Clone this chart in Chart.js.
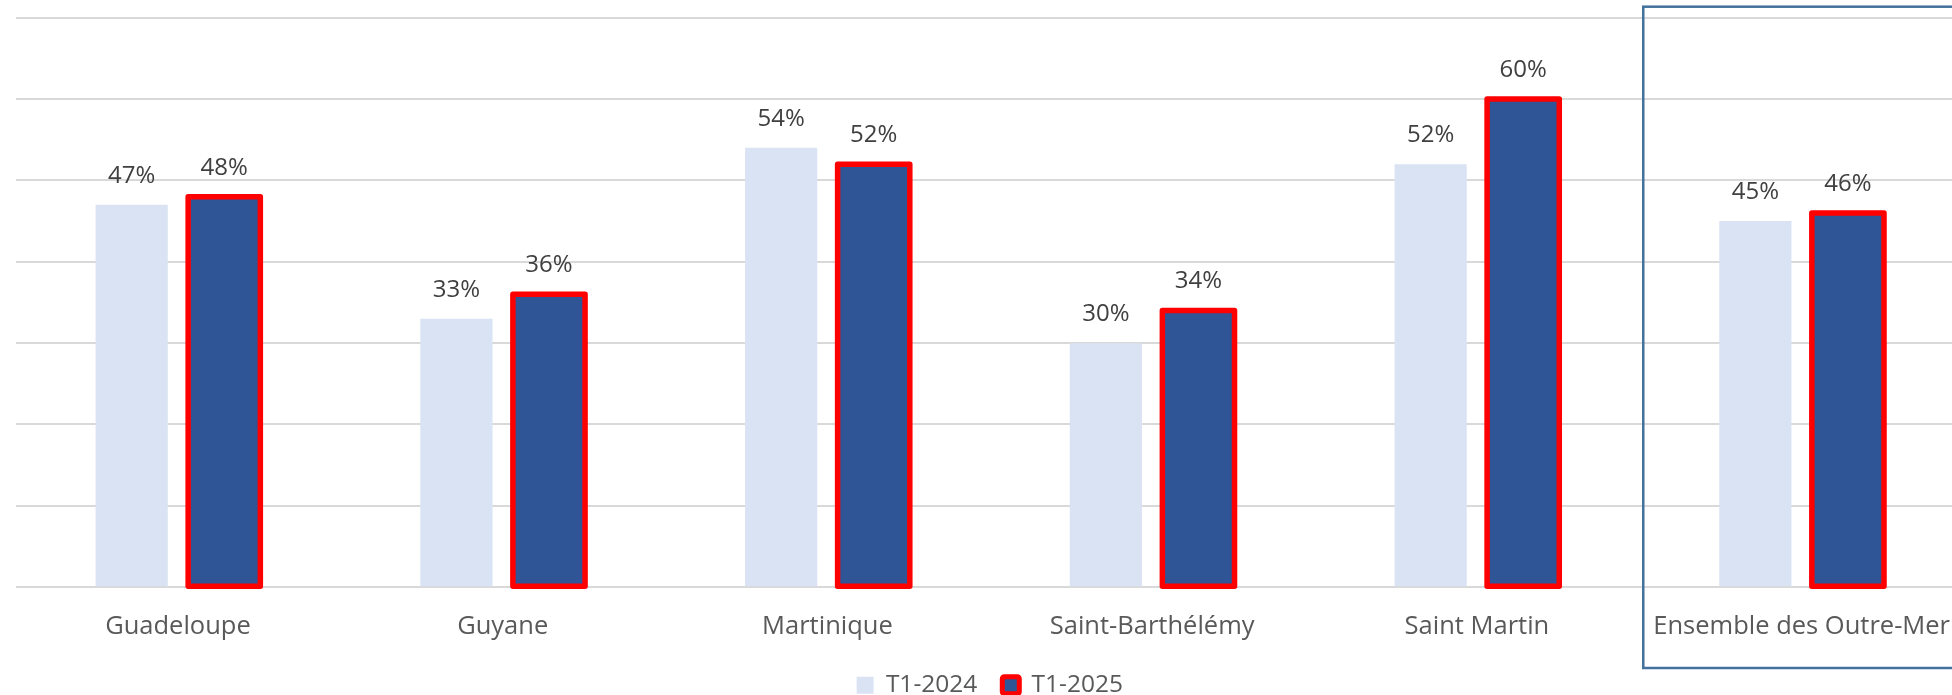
<!DOCTYPE html>
<html><head><meta charset="utf-8">
<script src="https://cdn.jsdelivr.net/npm/chart.js@4.4.1/dist/chart.umd.min.js"></script>
<style>
html,body{margin:0;padding:0;overflow:hidden;background:#fff;width:1952px;height:695px}
canvas{display:block}
</style></head>
<body><canvas id="c" width="1966" height="695" style="width:1966px;height:695px"></canvas>
<script>
const categories = ["Guadeloupe", "Guyane", "Martinique", "Saint-Barthélémy", "Saint Martin", "Ensemble des Outre-Mer"];
const seriesNames = ["T1-2024", "T1-2025"];
const values2024 = [47, 33, 54, 30, 52, 45];
const values2025 = [48, 36, 52, 34, 60, 46];
const yTicks = [0, 10, 20, 30, 40, 50, 60, 70];
const highlightedCategory = "Ensemble des Outre-Mer";

const FONT = '"Open Sans"';
const LIGHT = '#DAE3F3', DARK = '#2F5597', RED = '#FF0000';

const outlinePlugin = {
  id: 'outline',
  afterDatasetsDraw(chart) {
    const ctx = chart.ctx;
    const meta = chart.getDatasetMeta(1);
    ctx.save();
    ctx.strokeStyle = RED;
    ctx.lineWidth = 5.5;
    ctx.lineJoin = 'round';
    meta.data.forEach(el => {
      const p = el.getProps(['x', 'y', 'base', 'width'], true);
      ctx.strokeRect(p.x - p.width / 2, p.y, p.width, p.base - p.y);
    });
    ctx.restore();
  }
};

const valueLabels = {
  id: 'valueLabels',
  afterDatasetsDraw(chart) {
    const ctx = chart.ctx;
    ctx.save();
    ctx.font = '24px ' + FONT;
    ctx.fillStyle = '#404040';
    ctx.textAlign = 'center';
    ctx.textBaseline = 'middle';
    chart.data.datasets.forEach((ds, i) => {
      chart.getDatasetMeta(i).data.forEach((el, j) => {
        ctx.fillText(ds.data[j] + '%', el.x, el.y - 29);
      });
    });
    ctx.restore();
  }
};

const highlightBox = {
  id: 'highlightBox',
  afterDraw(chart) {
    const ctx = chart.ctx;
    const x = chart.scales.x;
    const idx = categories.indexOf(highlightedCategory);
    const catW = (x.right - x.left) / categories.length;
    const left = x.getPixelForValue(idx) - catW / 2 + 4;
    const top = chart.chartArea.top - 11;
    const bottom = 668;
    ctx.save();
    ctx.strokeStyle = '#41719C';
    ctx.lineWidth = 2.5;
    ctx.strokeRect(left, top, chart.width + 20 - left, bottom - top);
    ctx.restore();
  }
};

new Chart(document.getElementById('c'), {
  type: 'bar',
  data: {
    labels: categories,
    datasets: [
      { label: seriesNames[0], data: values2024, backgroundColor: LIGHT, borderWidth: 0,
        barPercentage: 0.78, categoryPercentage: 0.57 },
      { label: seriesNames[1], data: values2025, backgroundColor: DARK, borderWidth: 0,
        barPercentage: 0.78, categoryPercentage: 0.57, clip: false }
    ]
  },
  options: {
    responsive: false,
    animation: false,
    devicePixelRatio: 1,
    layout: { padding: { left: 15.6, right: 2, top: 17.7, bottom: 0 } },
    scales: {
      x: {
        grid: { display: false, drawTicks: true, tickLength: 19 },
        border: { display: false },
        ticks: { font: { family: FONT, size: 25.5 }, color: '#595959', padding: 5.6, maxRotation: 0, autoSkip: false }
      },
      y: {
        min: yTicks[0], max: yTicks[yTicks.length - 1],
        afterBuildTicks(scale) { scale.ticks = yTicks.map(v => ({ value: v })); },
        grid: { color: '#D9D9D9', lineWidth: 2, drawTicks: false },
        border: { display: false },
        ticks: { display: false }
      }
    },
    plugins: {
      tooltip: { enabled: false },
      legend: {
        position: 'bottom',
        maxHeight: 47,
        labels: {
          padding: 25,
          boxWidth: 17,
          boxHeight: 17,
          color: '#595959',
          font: { family: FONT, size: 24.5 },
          useBorderRadius: true,
          generateLabels(chart) {
            return chart.data.datasets.map((ds, i) => ({
              text: ds.label,
              fillStyle: ds.backgroundColor,
              strokeStyle: i === 1 ? RED : ds.backgroundColor,
              lineWidth: i === 1 ? 5 : 0,
              borderRadius: i === 1 ? 2 : 0,
              fontColor: '#595959',
              datasetIndex: i,
              hidden: false
            }));
          }
        }
      }
    }
  },
  plugins: [outlinePlugin, valueLabels, highlightBox]
});
</script>
</body></html>
